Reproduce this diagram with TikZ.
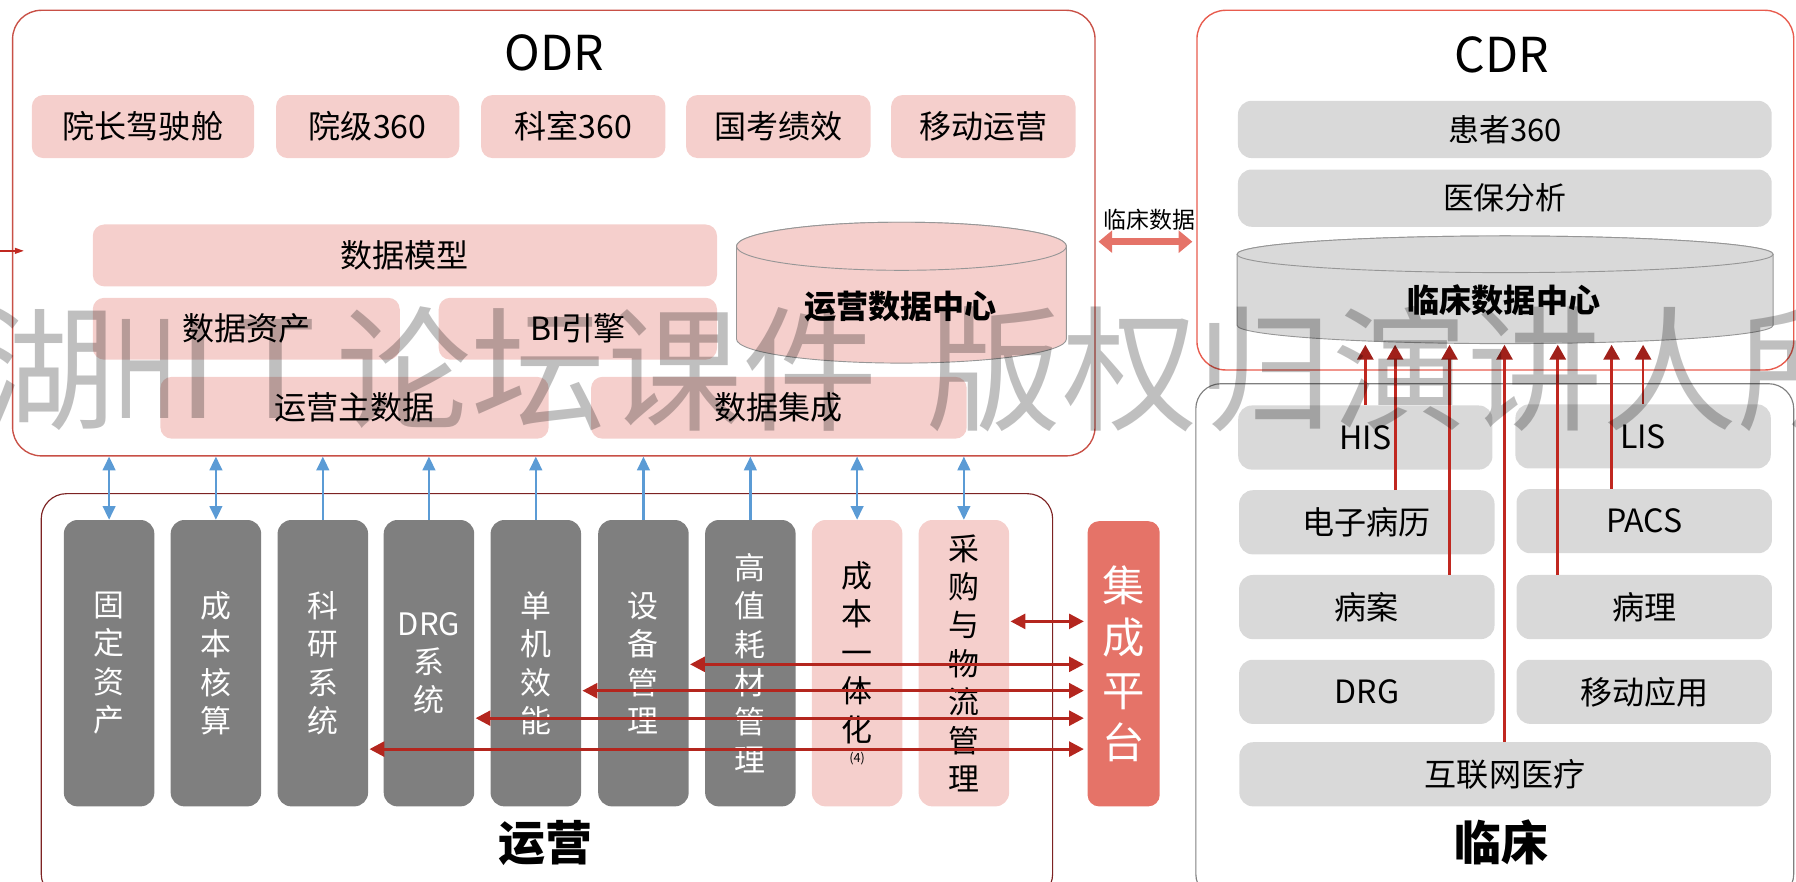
\documentclass[tikz,border=0pt]{standalone}
\usepackage{fontspec}
\setmainfont{Noto Sans CJK SC}
\usetikzlibrary{arrows.meta}
\newcommand\myfs[2]{\fontsize{#1}{#2}\selectfont}
\definecolor{pinkfill}{RGB}{245,207,204}
\definecolor{lgray}{RGB}{217,217,217}
\definecolor{dgray}{RGB}{127,127,127}
\definecolor{cylgray}{RGB}{150,150,150}
\definecolor{salmon}{RGB}{229,115,104}
\definecolor{odrred}{RGB}{200,80,70}
\definecolor{cdrred}{RGB}{232,92,78}
\definecolor{opred}{RGB}{125,35,35}
\definecolor{blu}{RGB}{91,155,213}
\definecolor{arrred}{RGB}{192,40,32}
\definecolor{arrdark}{RGB}{160,32,26}
\definecolor{oparrc}{RGB}{180,38,30}
\tikzset{
  pinkbox/.style={fill=pinkfill, rounded corners=10pt, inner sep=0pt, font=\myfs{28}{34}},
  graybox/.style={fill=lgray, rounded corners=12pt, inner sep=0pt, font=\myfs{28}{34}},
  cdrbox/.style={fill=lgray, rounded corners=12pt, inner sep=0pt, font=\myfs{27}{32}},
  colbox/.style={fill=dgray, text=white, rounded corners=12pt, minimum width=79pt, minimum height=250pt, inner sep=0pt, align=center, font=\myfs{27}{33.5}},
  pinkcol/.style={colbox, fill=pinkfill, text=black},
  titletext/.style={font=\myfs{42}{48}, inner sep=0pt},
  biglabel/.style={font=\myfs{41}{46}\bfseries, inner sep=0pt},
  cyllabel/.style={font=\myfs{28}{32}\bfseries, inner sep=0pt},
  blueboth/.style={draw=blu, line width=2pt, arrows={Triangle[length=12pt,width=11pt]-Triangle[length=12pt,width=11pt]}},
  blueup/.style={draw=blu, line width=2pt, arrows={-Triangle[length=12pt,width=11pt]}},
  clinarr/.style={draw=arrred, line width=2.4pt, arrows={-Triangle[length=13pt,width=14pt,color=arrdark]}},
  oparr/.style={draw=oparrc, line width=2.6pt, arrows={Triangle[length=13pt,width=13pt]-Triangle[length=13pt,width=13pt]}},
  salarr/.style={draw=salmon, line width=6pt, arrows={Triangle[length=12pt,width=19pt]-Triangle[length=12pt,width=19pt]}},
  wm/.style={text=black, text opacity=0.25, font=\myfs{118}{120}, inner sep=0pt},
}
\begin{document}
\begin{tikzpicture}[x=1pt,y=-1pt]
\useasboundingbox (0,0) rectangle (1568,770);
\clip (0,0) rectangle (1568,770);

% ---------- ODR ----------
\node[draw=odrred, line width=1.2pt, rounded corners=25pt, minimum width=945pt, minimum height=389pt, inner sep=0pt] (odr) at (483.5,203.5) {};
\node[titletext] (odrt) at (484,46) {ODR};
\node[pinkbox, minimum width=194pt, minimum height=55pt] (yzjsc) at (124.8,110.5) {院长驾驶舱};
\node[pinkbox, minimum width=160pt, minimum height=55pt] (yj) at (321,110.5) {院级360};
\node[pinkbox, minimum width=161pt, minimum height=55pt] (ks) at (500.5,110.5) {科室360};
\node[pinkbox, minimum width=161pt, minimum height=55pt] (gk) at (679.5,110.5) {国考绩效};
\node[pinkbox, minimum width=161pt, minimum height=55pt] (yd) at (858.5,110.5) {移动运营};

\node[pinkbox, minimum width=545pt, minimum height=54pt] (sjmx) at (353.5,223) {数据模型};
\node[pinkbox, minimum width=268pt, minimum height=54pt] (sjzc) at (215,287) {数据资产};
\node[pinkbox, minimum width=243pt, minimum height=54pt] (bi) at (504.5,287) {BI引擎};
\node[pinkbox, minimum width=339pt, minimum height=54pt] (yyzsj) at (309.5,356) {运营主数据};
\node[pinkbox, minimum width=328pt, minimum height=54pt] (sjjc) at (680,356) {数据集成};

% operation data cylinder
\filldraw[fill=pinkfill, draw=cylgray, line width=0.8pt] (643,215) -- (643,296) arc[start angle=180, end angle=360, x radius=144pt, y radius=21pt] -- (931,215) arc[start angle=0, end angle=180, x radius=144pt, y radius=21pt] -- cycle;
\filldraw[fill=pinkfill, draw=cylgray, line width=0.8pt] (787,215) ellipse [x radius=144pt, y radius=21pt];
\node[cyllabel] (yysjzx) at (786,268) {运营数据中心};

% ---------- CDR ----------
\node[draw=cdrred, line width=1.2pt, rounded corners=25pt, minimum width=521pt, minimum height=314pt, inner sep=0pt] (cdr) at (1305.5,166) {};
\node[titletext] (cdrt) at (1311,48) {CDR};
\node[cdrbox, minimum width=466pt, minimum height=50pt] (hz) at (1313.8,113) {患者360};
\node[cdrbox, minimum width=466pt, minimum height=50pt] (yb) at (1313.8,173) {医保分析};
\filldraw[fill=lgray, draw=cylgray, line width=0.8pt] (1080,222) -- (1080,284) arc[start angle=180, end angle=360, x radius=234pt, y radius=16pt] -- (1548,222) arc[start angle=0, end angle=180, x radius=234pt, y radius=16pt] -- cycle;
\filldraw[fill=lgray, draw=cylgray, line width=0.8pt] (1314,222) ellipse [x radius=234pt, y radius=16pt];
\node[cyllabel] (lcsjzx) at (1313,262) {临床数据中心};

% link between ODR and CDR
\node[font=\myfs{20}{24}, inner sep=0pt] (cdlabel) at (1003.5,192) {临床数据};
\coordinate (cdl) at (959,211);
\coordinate (cdr2) at (1041,211);
\draw[salarr] (cdl) -- (cdr2);

% small partial arrow at left edge
\coordinate (lm1) at (-6,219);
\coordinate (lm2) at (21,219);
\draw[draw=arrred, line width=1.5pt, arrows={-Triangle[length=8pt,width=5pt]}] (lm1) -- (lm2);

% ---------- 临床 ----------
\node[draw=dgray, line width=1pt, rounded corners=22pt, minimum width=522pt, minimum height=450pt, inner sep=0pt] (lc) at (1305,560) {};
\node[graybox, minimum width=222pt, minimum height=56pt] (his) at (1192,382) {HIS};
\node[graybox, minimum width=223pt, minimum height=56pt] (lis) at (1434.5,381) {LIS};
\node[graybox, minimum width=223pt, minimum height=56pt] (emr) at (1193.3,456) {电子病历};
\node[graybox, minimum width=223pt, minimum height=56pt] (pacs) at (1435.5,455) {PACS};
\node[graybox, minimum width=223pt, minimum height=56pt] (ba) at (1193.3,530) {病案};
\node[graybox, minimum width=223pt, minimum height=56pt] (bl) at (1435.5,530) {病理};
\node[graybox, minimum width=223pt, minimum height=56pt] (drgc) at (1193.3,604) {DRG};
\node[graybox, minimum width=223pt, minimum height=56pt] (ydyy) at (1435.5,604) {移动应用};
\node[graybox, minimum width=464pt, minimum height=56pt] (hlw) at (1314,676) {互联网医疗};
\node[biglabel] (lcl) at (1311,735) {临床};

\coordinate (t1) at (1192,301);
\coordinate (t2) at (1218,301);
\coordinate (t3) at (1265.5,301);
\coordinate (t4) at (1313.5,301);
\coordinate (t5) at (1360,301);
\coordinate (t6) at (1407,301);
\coordinate (t7) at (1434.5,301);
\draw[clinarr] (his.north -| t1) -- (t1);
\draw[clinarr] (emr.north -| t2) -- (t2);
\draw[clinarr] (ba.north -| t3) -- (t3);
\draw[clinarr] (hlw.north -| t4) -- (t4);
\draw[clinarr] (bl.north -| t5) -- (t5);
\draw[clinarr] (pacs.north -| t6) -- (t6);
\draw[clinarr] (lis.north -| t7) -- (t7);

% ---------- 运营 ----------
\node[draw=opred, line width=1pt, rounded corners=22pt, minimum width=883pt, minimum height=354pt, inner sep=0pt] (yy) at (477.5,608) {};
\node[colbox] (col1) at (95.25,579) {固\\定\\资\\产};
\node[colbox] (col2) at (188.5,579) {成\\本\\核\\算};
\node[colbox] (col3) at (281.85,579) {科\\研\\系\\统};
\node[colbox] (col4) at (374.5,579) {DRG\\系\\统};
\node[colbox] (col5) at (467.8,579) {单\\机\\效\\能};
\node[colbox] (col6) at (561.75,579) {设\\备\\管\\理};
\node[colbox] (col7) at (655.1,579) {高\\值\\耗\\材\\管\\理};
\node[pinkcol] (col8) at (748.3,579) {成\\本\\一\\体\\化\\[-15pt]{\myfs{11}{13}(4)}};
\node[pinkcol] (col9) at (841.5,579) {采\\购\\与\\物\\流\\管\\理};
\node[fill=salmon, text=white, rounded corners=10pt, minimum width=63pt, minimum height=249pt, inner sep=0pt, align=center, font=\myfs{37}{45.5}] (jc) at (981,579.5) {集\\成\\平\\台};
\node[biglabel] (yyl) at (476,736) {运营};

% blue arrows to ODR
\draw[blueboth] (col1.north) -- (col1.north |- odr.south);
\draw[blueboth] (col2.north) -- (col2.north |- odr.south);
\draw[blueup] (col3.north) -- (col3.north |- odr.south);
\draw[blueup] (col4.north) -- (col4.north |- odr.south);
\draw[blueup] (col5.north) -- (col5.north |- odr.south);
\draw[blueup] (col6.north) -- (col6.north |- odr.south);
\draw[blueup] (col7.north) -- (col7.north |- odr.south);
\draw[blueboth] (col8.north) -- (col8.north |- odr.south);
\draw[blueboth] (col9.north) -- (col9.north |- odr.south);

% red arrows to integration platform
\coordinate (h1) at (0,542.5);
\coordinate (h2) at (0,580);
\coordinate (h3) at (0,603);
\coordinate (h4) at (0,627);
\coordinate (h5) at (0,654);
\draw[oparr, shorten >=3pt, shorten <=1pt] (col9.east |- h1) -- (jc.west |- h1);
\draw[oparr, shorten >=3pt, shorten <=1pt] (col6.east |- h2) -- (jc.west |- h2);
\draw[oparr, shorten >=3pt, shorten <=1pt] (col5.east |- h3) -- (jc.west |- h3);
\draw[oparr, shorten >=3pt, shorten <=1pt] (col4.east |- h4) -- (jc.west |- h4);
\draw[oparr, shorten >=3pt, shorten <=1pt] (col3.east |- h5) -- (jc.west |- h5);

% ---------- watermark ----------
\node[wm] (wm1) at (42,322) {湖};
\node[wm, xscale=0.65] (wm2) at (127,322) {H};
\node[wm] (wm3) at (173,322) {I};
\node[wm] (wm4) at (241,322) {T};
\node[wm] (wm5) at (530,322) {论坛课件};
\node[wm, anchor=west] (wm6) at (809,322) {版权归演讲人所有};
\end{tikzpicture}
\end{document}
